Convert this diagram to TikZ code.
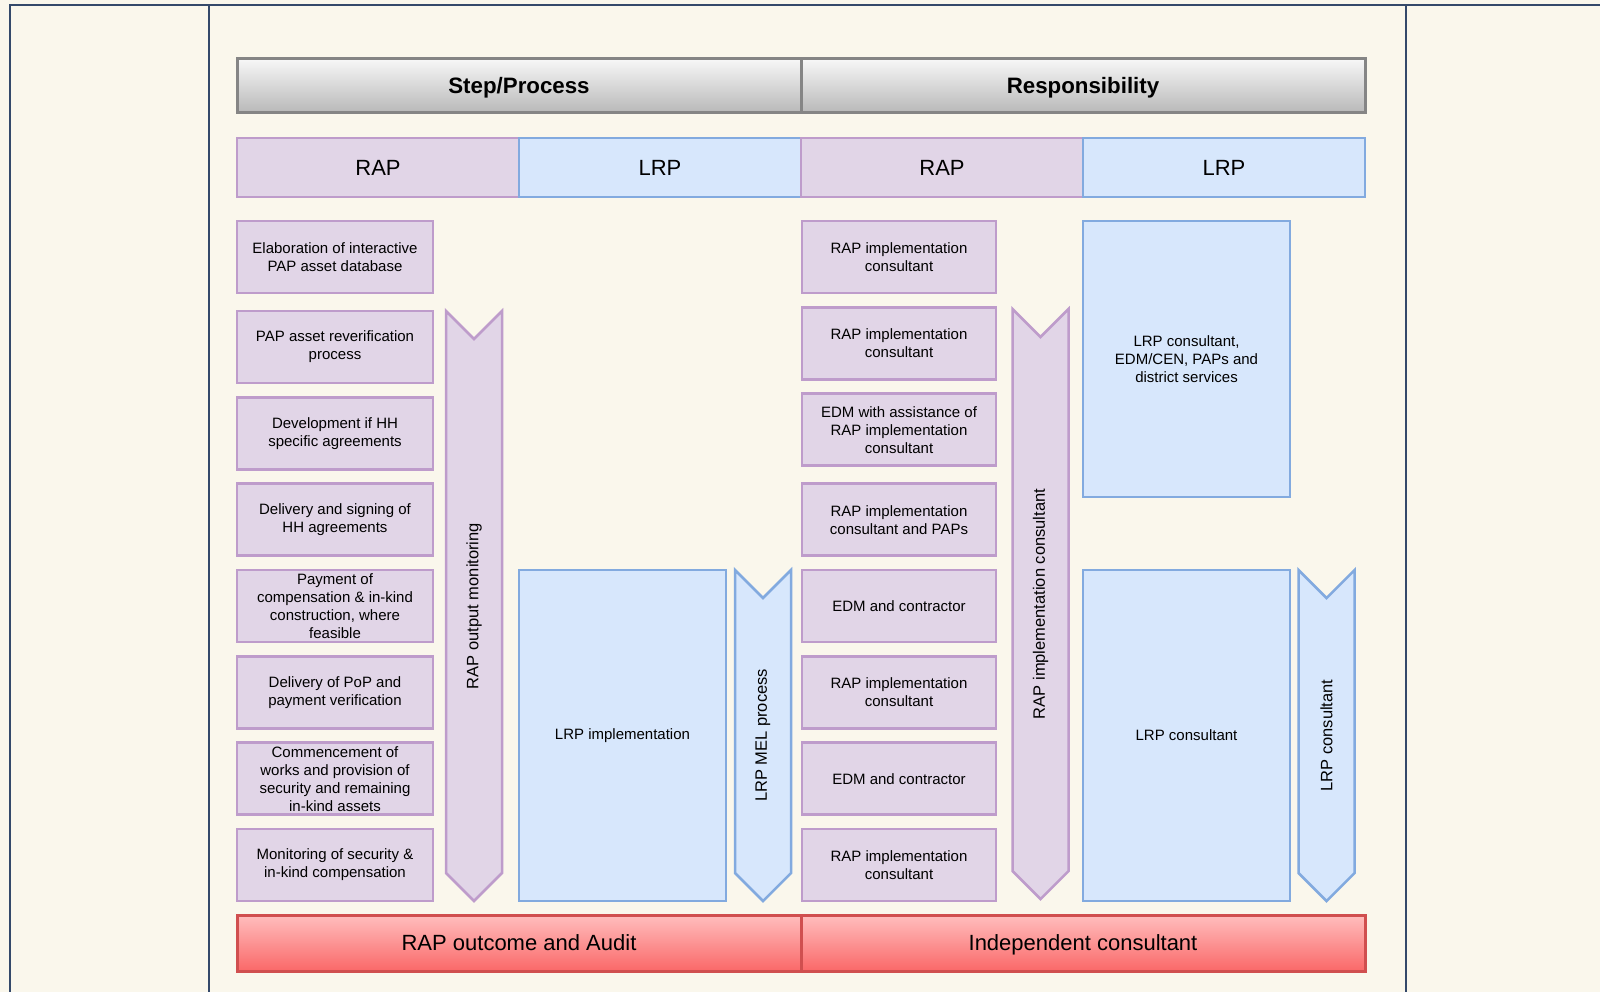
\documentclass[tikz,border=0pt]{standalone}
\usepackage{fontspec}
\setmainfont{Liberation Sans}
\usetikzlibrary{positioning,shapes.symbols}
\definecolor{bgc}{HTML}{FAF7EC}
\definecolor{framec}{HTML}{34496A}
\definecolor{rapfill}{HTML}{E1D5E7}
\definecolor{rapdraw}{HTML}{BE9CCB}
\definecolor{lrpfill}{HTML}{D7E7FC}
\definecolor{lrpdraw}{HTML}{82AADF}
\definecolor{hdtop}{HTML}{F7F7F7}
\definecolor{hdbot}{HTML}{B8B8B8}
\definecolor{hddraw}{HTML}{858585}
\definecolor{audtop}{HTML}{FFBEBE}
\definecolor{audbot}{HTML}{FA6868}
\definecolor{auddraw}{HTML}{D04F4F}
\tikzset{
  cell/.style={draw, align=center, inner xsep=2pt, inner ysep=0pt, outer sep=0pt,
               font=\fontsize{15}{18}\selectfont, line width=2.5pt},
  rap/.style={cell, fill=rapfill, draw=rapdraw, minimum width=196pt, minimum height=72pt},
  rapr/.style={rap, minimum width=194pt},
  lrp/.style={cell, fill=lrpfill, draw=lrpdraw, minimum width=207pt, minimum height=#1},
  col/.style={cell, minimum width=282pt, minimum height=59pt, font=\fontsize{22}{26}\selectfont},
  rapcol/.style={col, fill=rapfill, draw=rapdraw},
  lrpcol/.style={col, fill=lrpfill, draw=lrpdraw},
  hd/.style={draw=hddraw, line width=3pt, top color=hdtop, bottom color=hdbot,
             minimum width=564pt, minimum height=54pt, text height=16pt, text depth=0pt,
             font=\bfseries\fontsize{22.3}{26}\selectfont},
  aud/.style={draw=auddraw, line width=3pt, top color=audtop, bottom color=audbot,
              minimum width=564pt, minimum height=56pt, text height=15.8pt, text depth=0pt,
              font=\fontsize{22}{26}\selectfont},
  chev/.style={signal, signal to=west, signal from=east, rotate=90, line width=2.5pt,
               minimum height=56pt, minimum width=#1, inner sep=0pt,
               font=\fontsize{16.5}{20}\selectfont},
  rapchev/.style={chev=#1, fill=rapfill, draw=rapdraw},
  lrpchev/.style={chev=#1, fill=lrpfill, draw=lrpdraw},
}
\begin{document}
\begin{tikzpicture}[x=1pt, y=-1pt, node distance=14.33pt]
\useasboundingbox (0,0) rectangle (1600,992);
% page and frame
\fill[bgc] (0,0) rectangle (1600,992);
\draw[framec, line width=2.5pt] (10,992) -- (10,5) -- (1600,5);
\draw[framec, line width=2.5pt] (209,5) -- (209,992) (1406,5) -- (1406,992);
% headers
\node[hd] (stepHd) at (519,86) {Step/Process};
\node[hd] (respHd) at (1083,86) {Responsibility};
\node[rapcol] (rapA) at (378,167.5) {RAP};
\node[lrpcol] (lrpA) at (660,167.5) {LRP};
\node[rapcol] (rapB) at (942,167.5) {RAP};
\node[lrpcol] (lrpB) at (1224,167.5) {LRP};
% RAP steps
\node[rap] (st1) at (335,257) {Elaboration of interactive\\PAP asset database};
\node[rap, below=18pt of st1] (st2) {PAP asset reverification\\process};
\node[rap, below=of st2] (st3) {Development if HH\\specific agreements};
\node[rap, below=of st3] (st4) {Delivery and signing of\\HH agreements};
\node[rap, below=of st4] (st5) {Payment of\\compensation \& in-kind\\construction, where\\feasible};
\node[rap, below=of st5] (st6) {Delivery of PoP and\\payment verification};
\node[rap, below=of st6] (st7) {Commencement of\\works and provision of\\security and remaining\\in-kind assets};
\node[rap, below=of st7] (st8) {Monitoring of security \&\\in-kind compensation};
\node[rapchev=590pt] (rapMon) at (474,606) {RAP output monitoring};
% LRP steps
\node[lrp=331pt] (lrpImpl) at (622.5,735.5) {LRP implementation};
\node[lrpchev=331pt] (lrpMel) at (763,735.5) {LRP MEL process};
% RAP responsibility
\node[rapr] (rs1) at (899,257) {RAP implementation\\consultant};
\node[rapr, below=of rs1] (rs2) {RAP implementation\\consultant};
\node[rapr, below=of rs2] (rs3) {EDM with assistance of\\RAP implementation\\consultant};
\node[rapr, below=18pt of rs3] (rs4) {RAP implementation\\consultant and PAPs};
\node[rapr, below=of rs4] (rs5) {EDM and contractor};
\node[rapr, below=of rs5] (rs6) {RAP implementation\\consultant};
\node[rapr, below=of rs6] (rs7) {EDM and contractor};
\node[rapr, below=of rs7] (rs8) {RAP implementation\\consultant};
\node[rapchev=590pt] (rapImp) at (1040.5,604) {RAP implementation consultant};
% LRP responsibility
\node[lrp=276pt] (lrpEdm) at (1186.5,359) {LRP consultant,\\EDM/CEN, PAPs and\\district services};
\node[lrp=331pt] (lrpCons) at (1186.5,735.5) {LRP consultant};
\node[lrpchev=331pt] (lrpChev) at (1326.5,735.5) {LRP consultant};
% outcome
\node[aud] (audRap) at (519,943) {RAP outcome and Audit};
\node[aud] (audInd) at (1083,943) {Independent consultant};
\end{tikzpicture}
\end{document}
